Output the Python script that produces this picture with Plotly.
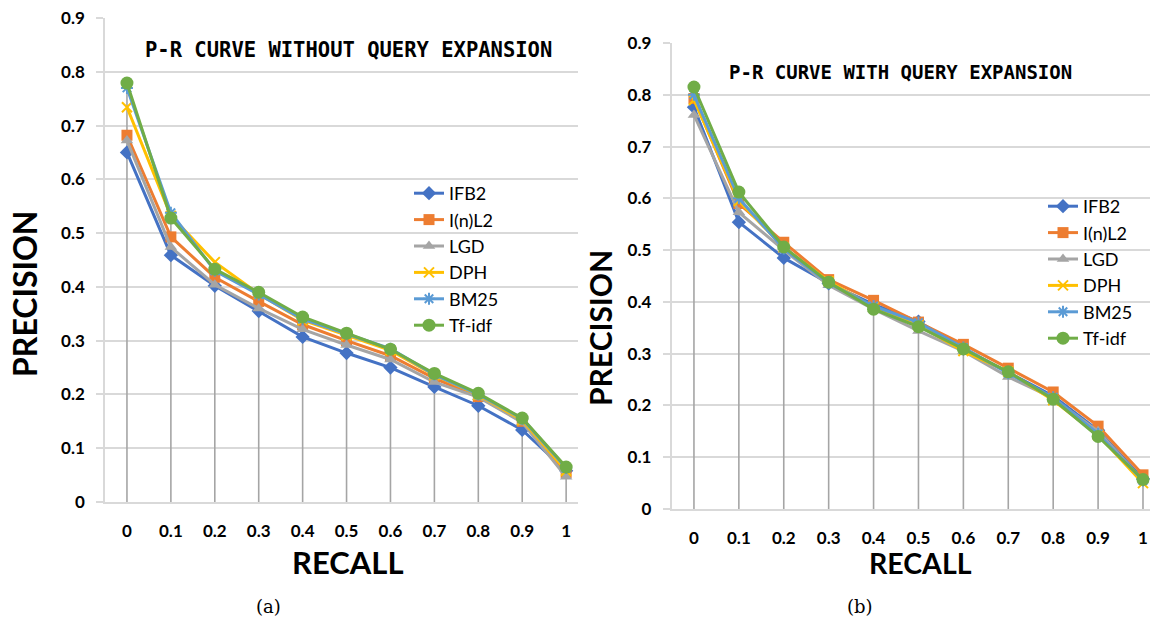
import plotly.graph_objects as go

W, H = 1150, 619

recall = [0, 0.1, 0.2, 0.3, 0.4, 0.5, 0.6, 0.7, 0.8, 0.9, 1.0]
recall_labels = ["0", "0.1", "0.2", "0.3", "0.4", "0.5", "0.6", "0.7", "0.8", "0.9", "1"]
prec_ticks = [0, 0.1, 0.2, 0.3, 0.4, 0.5, 0.6, 0.7, 0.8, 0.9]
prec_labels = ["0", "0.1", "0.2", "0.3", "0.4", "0.5", "0.6", "0.7", "0.8", "0.9"]

names = ["IFB2", "I(n)L2", "LGD", "DPH", "BM25", "Tf-idf"]

# (a) without query expansion
a_ifb2 = [0.650, 0.459, 0.402, 0.355, 0.307, 0.277, 0.250, 0.214, 0.179, 0.134, 0.058]
a_inl2 = [0.682, 0.493, 0.418, 0.373, 0.330, 0.300, 0.272, 0.230, 0.196, 0.150, 0.055]
a_lgd = [0.672, 0.474, 0.404, 0.360, 0.321, 0.292, 0.265, 0.223, 0.195, 0.148, 0.047]
a_dph = [0.734, 0.532, 0.446, 0.387, 0.338, 0.310, 0.282, 0.236, 0.199, 0.152, 0.058]
a_bm25 = [0.770, 0.538, 0.430, 0.386, 0.340, 0.312, 0.285, 0.237, 0.200, 0.155, 0.063]
a_tfidf = [0.779, 0.528, 0.433, 0.390, 0.344, 0.314, 0.284, 0.239, 0.202, 0.156, 0.065]

# (b) with query expansion
b_ifb2 = [0.776, 0.554, 0.485, 0.436, 0.395, 0.362, 0.310, 0.264, 0.218, 0.152, 0.058]
b_inl2 = [0.793, 0.590, 0.515, 0.443, 0.403, 0.361, 0.318, 0.272, 0.226, 0.160, 0.066]
b_lgd = [0.761, 0.573, 0.500, 0.432, 0.386, 0.344, 0.305, 0.255, 0.214, 0.150, 0.055]
b_dph = [0.790, 0.595, 0.505, 0.440, 0.390, 0.355, 0.305, 0.265, 0.210, 0.143, 0.050]
b_bm25 = [0.800, 0.600, 0.503, 0.436, 0.392, 0.360, 0.312, 0.262, 0.216, 0.145, 0.055]
b_tfidf = [0.815, 0.612, 0.506, 0.438, 0.386, 0.352, 0.309, 0.265, 0.212, 0.140, 0.057]

series_a = [a_ifb2, a_inl2, a_lgd, a_dph, a_bm25, a_tfidf]
series_b = [b_ifb2, b_inl2, b_lgd, b_dph, b_bm25, b_tfidf]

colors = ["#4472C4", "#ED7D31", "#A5A5A5", "#FFC000", "#5B9BD5", "#70AD47"]
symbols = ["diamond", "square", "triangle-up", "x-thin-open", "asterisk-open", "circle"]
msizes = [11, 11, 11, 10, 10, 13]

GRID = "#D9D9D9"
DROP = "#A5A5A5"

fig = go.Figure()


def droplines(series, xa, ya):
    xs, ys = [], []
    for i, x in enumerate(recall):
        top = max(s[i] for s in series)
        xs += [x, x, None]
        ys += [0, top, None]
    fig.add_trace(go.Scatter(x=xs, y=ys, mode="lines", xaxis=xa, yaxis=ya,
                             line=dict(color=DROP, width=1.6), showlegend=False,
                             hoverinfo="skip"))


def add_series(series, xa, ya, legend):
    for name, ys, c, sym, ms in zip(names, series, colors, symbols, msizes):
        mk = dict(symbol=sym, size=ms, color=c)
        if sym in ("x-thin-open", "asterisk-open"):
            mk["line"] = dict(color=c, width=2)
        fig.add_trace(go.Scatter(x=recall, y=ys, name=name, mode="lines+markers",
                                 xaxis=xa, yaxis=ya, legend=legend,
                                 line=dict(color=c, width=3), marker=mk))


droplines(series_a, "x", "y")
add_series(series_a, "x", "y", "legend")
droplines(series_b, "x2", "y2")
add_series(series_b, "x2", "y2", "legend2")

tickfont = dict(family="Lato", size=17, color="black", weight="bold")

common_x = dict(tickvals=recall, ticktext=recall_labels, showgrid=False, zeroline=False,
                showline=True, linecolor=GRID, linewidth=1.5, ticks="", tickfont=tickfont,
                ticklabelstandoff=13, automargin=False)
common_y = dict(tickvals=prec_ticks, ticktext=prec_labels, showgrid=True, gridcolor=GRID,
                gridwidth=1.5, zeroline=False, showline=True, linecolor=GRID, linewidth=1.5,
                ticks="outside", ticklen=7, tickcolor=GRID, tickwidth=1.5, tickfont=tickfont,
                ticklabelstandoff=8, automargin=False)

fig.update_layout(
    template="none",
    width=W, height=H, margin=dict(l=0, r=0, t=0, b=0, autoexpand=False),
    paper_bgcolor="white", plot_bgcolor="white",
    xaxis=dict(domain=[105 / W, 578 / W], range=[-0.05, 1.027], anchor="y", **common_x),
    yaxis=dict(domain=[(H - 502) / H, (H - 18) / H], range=[0, 0.9], anchor="x", **common_y),
    xaxis2=dict(domain=[671.5 / W, 1.0], range=[-0.05, 1.0156], anchor="y2", **common_x),
    yaxis2=dict(domain=[(H - 509) / H, (H - 43) / H], range=[0, 0.9], anchor="x2", **common_y),
    legend=dict(x=409 / W, y=(H - 175) / H, xanchor="left", yanchor="top",
                bgcolor="rgba(0,0,0,0)", font=dict(family="Lato", size=18, color="black")),
    legend2=dict(x=1043 / W, y=(H - 188) / H, xanchor="left", yanchor="top",
                 bgcolor="rgba(0,0,0,0)", font=dict(family="Lato", size=18, color="black")),
)


def ann(text, x, y, size, family="Lato", weight="bold", angle=0):
    fig.add_annotation(text=text, x=x / W, y=(H - y) / H, xref="paper", yref="paper",
                       showarrow=False, textangle=angle, xanchor="center", yanchor="middle",
                       borderpad=0,
                       font=dict(family=family, size=size, color="black", weight=weight))


ann("P-R CURVE WITHOUT QUERY EXPANSION", 348, 50, 20.5, family="DejaVu Sans Mono")
ann("P-R CURVE WITH QUERY EXPANSION", 900, 72, 19, family="DejaVu Sans Mono")
ann("RECALL", 348, 562, 31)
ann("RECALL", 920, 563, 28.5)
ann("PRECISION", 24, 294, 32, angle=-90)
ann("PRECISION", 600, 328, 30, angle=-90)
ann("(a)", 268, 606, 18, family="DejaVu Serif", weight="normal")
ann("(b)", 860, 606, 18, family="DejaVu Serif", weight="normal")

fig.write_html("out.html", config={"displayModeBar": False},
               post_script="document.body.style.margin='0';document.body.style.overflow='hidden';")
